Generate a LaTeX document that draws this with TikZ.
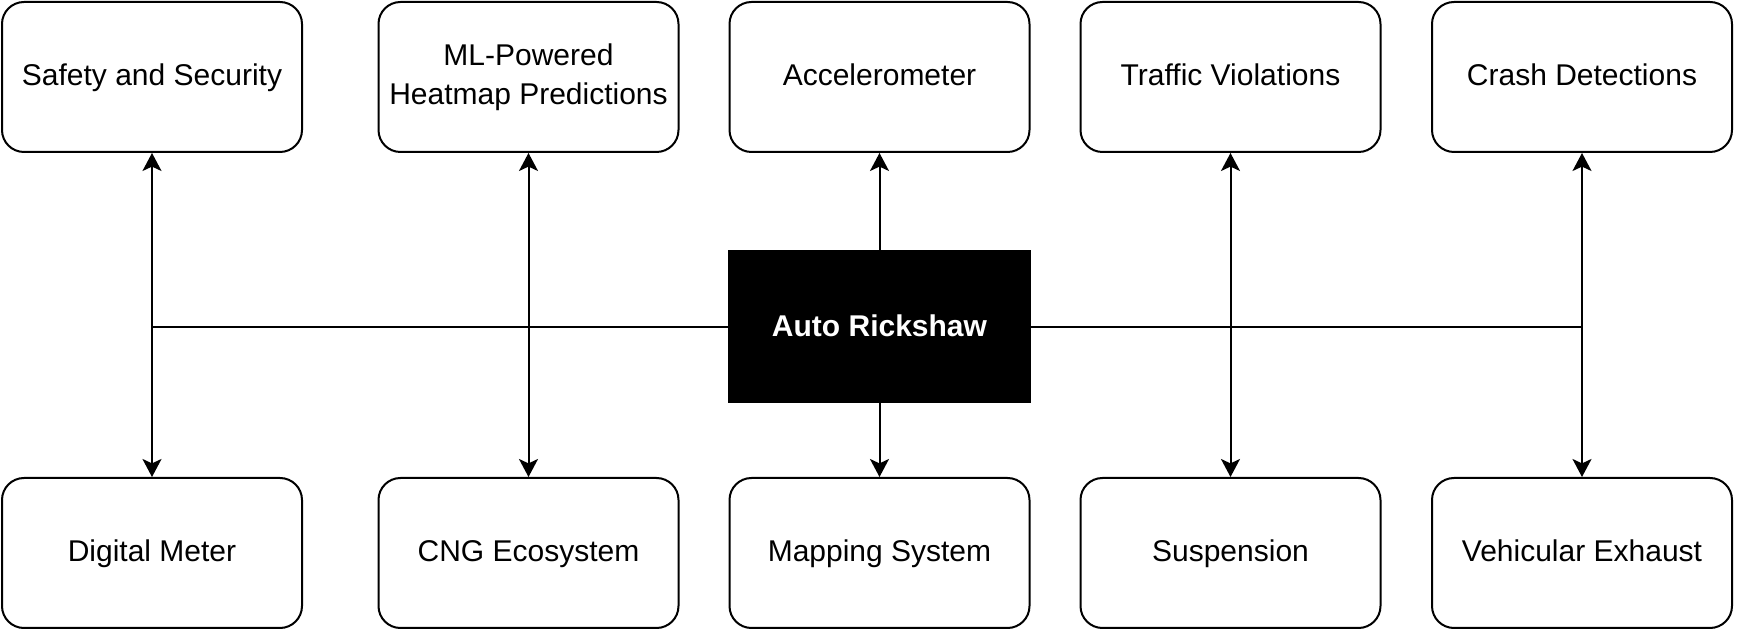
\documentclass[tikz,border=0pt]{standalone}
\usepackage{fontspec}
\setmainfont{Liberation Sans}
\usetikzlibrary{arrows.meta}
\begin{document}
\begin{tikzpicture}[x=0.5pt,y=-0.5pt,
  box/.style={draw=black, line width=1pt, fill=white, rounded corners=11pt,
    minimum width=150pt, minimum height=75pt, inner sep=0pt, align=center,
    font=\fontsize{15}{19.5}\selectfont},
  oneline/.style={text height=11.5pt, text depth=2.5pt},
  hub/.style={draw=black, line width=1pt, fill=black, text=white,
    minimum width=150.5pt, minimum height=75.5pt, inner sep=0pt, align=center,
    text height=11.5pt, text depth=2pt,
    font=\fontsize{15}{19.5}\selectfont\bfseries},
  arr/.style={draw=black, line width=1pt, -{Stealth[length=9pt,width=9.5pt,inset=2.2pt]}}
]
\useasboundingbox (0,0) rectangle (1737,630);
\node[box,oneline] (safety)  at (152,77)    {Safety and Security};
\node[box]         (ml)      at (528.5,77)  {ML-Powered\\Heatmap Predictions};
\node[box,oneline] (accel)   at (879.5,77)  {Accelerometer};
\node[box,oneline] (traffic) at (1230.5,77) {Traffic Violations};
\node[box,oneline] (crash)   at (1582,77)   {Crash Detections};
\node[box,oneline] (digital) at (152,553)    {Digital Meter};
\node[box,oneline] (cng)     at (528.5,553)  {CNG Ecosystem};
\node[box,oneline] (mapping) at (879.5,553)  {Mapping System};
\node[box,oneline] (susp)    at (1230.5,553) {Suspension};
\node[box,oneline] (exhaust) at (1582,553)   {Vehicular Exhaust};
\node[hub] (ar) at (879.5,327) {Auto Rickshaw};
\draw[arr] (ar.west) -| (safety.south);
\draw[arr] (ar.west) -| (digital.north);
\draw[arr] (ar.west) -| (ml.south);
\draw[arr] (ar.west) -| (cng.north);
\draw[arr] (ar.north) -- (accel.south);
\draw[arr] (ar.south) -- (mapping.north);
\draw[arr] (ar.east) -| (traffic.south);
\draw[arr] (ar.east) -| (susp.north);
\draw[arr] (ar.east) -| (crash.south);
\draw[arr] (ar.east) -| (exhaust.north);
\end{tikzpicture}
\end{document}
